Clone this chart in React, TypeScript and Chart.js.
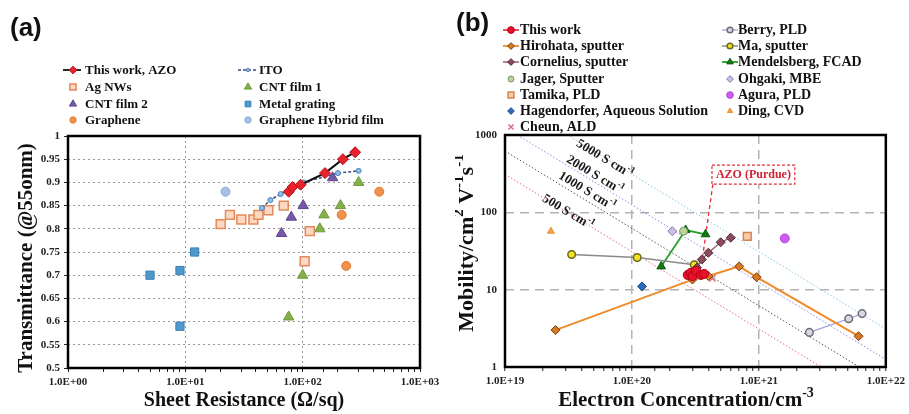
import React, { useEffect, useRef } from 'react';
import { Chart, registerables } from 'chart.js';
Chart.register(...registerables);

const SERIF = '"Liberation Serif", "Times New Roman", serif';
const SANS = '"Liberation Sans", Arial, sans-serif';

// ---------------- Panel (a) data ----------------
const namesA = ['This work, AZO', 'ITO', 'Ag NWs', 'CNT film 1', 'CNT film 2', 'Metal grating', 'Graphene', 'Graphene Hybrid film'];
const azoR = [76, 82, 96, 155, 220, 280];
const azoT = [0.88, 0.89, 0.895, 0.92, 0.95, 0.965];
const itoR = [45, 53, 65, 102, 200, 300];
const itoT = [0.845, 0.862, 0.875, 0.9, 0.92, 0.925];
const agR = [20, 24, 30, 38, 42, 51, 69, 115, 104];
const agT = [0.81, 0.83, 0.82, 0.82, 0.83, 0.84, 0.85, 0.795, 0.73];
const cnt1R = [100, 140, 152, 210, 300, 76];
const cnt1T = [0.7, 0.8, 0.83, 0.85, 0.9, 0.61];
const cnt2R = [66, 80, 101, 180];
const cnt2T = [0.79, 0.825, 0.85, 0.91];
const metalR = [5, 9, 12, 9];
const metalT = [0.7, 0.71, 0.75, 0.59];
const grR = [450, 215, 235];
const grT = [0.88, 0.83, 0.72];
const hyR = [22];
const hyT = [0.88];

// ---------------- Panel (b) data ----------------
const namesB = ['This work', 'Hirohata, sputter', 'Cornelius, sputter', 'Jager, Sputter', 'Tamika, PLD', 'Hagendorfer, Aqueous Solution', 'Cheun, ALD',
  'Berry, PLD', 'Ma, sputter', 'Mendelsberg, FCAD', 'Ohgaki, MBE', 'Agura, PLD', 'Ding, CVD'];
const twN = [2.75e20, 2.9e20, 3.0e20, 3.2e20, 3.5e20, 3.7e20];
const twMu = [15.5, 16.5, 15, 17.5, 15.5, 16];
const hiroN = [2.5e19, 3.0e20, 4.0e20, 7.0e20, 9.6e20, 6.1e21];
const hiroMu = [3, 13.5, 15, 20, 14.5, 2.5];
const cornN = [3.25e20, 3.55e20, 4.0e20, 5.0e20, 6.0e20];
const cornMu = [19.3, 24.5, 30, 41, 47];
const jagN = [2.55e20];
const jagMu = [57];
const tamN = [8.1e20];
const tamMu = [49];
const hagN = [1.2e20];
const hagMu = [11];
const cheunN = [4.3e20];
const cheunMu = [14];
const berryN = [2.5e21, 5.1e21, 6.5e21];
const berryMu = [2.8, 4.2, 4.9];
const maN = [3.35e19, 1.1e20, 3.1e20];
const maMu = [28.5, 26, 21];
const mendN = [1.7e20, 2.65e20, 3.8e20];
const mendMu = [20, 59, 52];
const ohgN = [2.08e20];
const ohgMu = [57];
const aguraN = [1.6e21];
const aguraMu = [46];
const dingN = [2.3e19];
const dingMu = [57];
// iso-conductivity guide lines (end points)
const sigmaValues = ['5000', '2000', '1000', '500'];
const s5000N = [3.1e19, 1e22];
const s5000Mu = [1000, 3.1];
const s2000N = [1.25e19, 1e22];
const s2000Mu = [1000, 1.25];
const s1000N = [1e19, 6.2e21];
const s1000Mu = [620, 1];
const s500N = [1e19, 3.1e21];
const s500Mu = [310, 1];
// annotation
const ptrN = [4.34e20, 3.56e20];
const ptrMu = [231, 23];

type St = { style: string; fill: string; stroke: string; r: number; pw?: number; line?: string; lw?: number; dash?: number[] };

const STA: St[] = [
  { style: 'rectRot', fill: '#e8232b', stroke: '#b5121a', r: 5.5, line: '#111111', lw: 2 },
  { style: 'circle', fill: '#8fbfe6', stroke: '#4f7fb8', r: 2.5, line: '#3c4c86', lw: 1.5, dash: [3, 2] },
  { style: 'rect', fill: '#fdd9c3', stroke: '#e4895a', r: 6.3, pw: 1.5 },
  { style: 'triangle', fill: '#86b04a', stroke: '#6e9a3a', r: 6 },
  { style: 'triangle', fill: '#7658a8', stroke: '#5e4590', r: 6 },
  { style: 'rect', fill: '#4f98cc', stroke: '#3c7fb5', r: 5.8 },
  { style: 'circle', fill: '#f0914c', stroke: '#e07a35', r: 4.5 },
  { style: 'circle', fill: '#a7c0e8', stroke: '#8aa6d8', r: 4.5 },
];

const STB: St[] = [
  { style: 'circle', fill: '#e8102a', stroke: '#b00018', r: 4.5, line: '#e8102a', lw: 1.5 },
  { style: 'rectRot', fill: '#d9781f', stroke: '#7a4010', r: 4.5, line: '#f08a2a', lw: 2 },
  { style: 'rectRot', fill: '#8c4a5c', stroke: '#4e2a35', r: 4.5, line: '#9c5e6e', lw: 1.5 },
  { style: 'circle', fill: '#b9d98c', stroke: '#7f8f7f', r: 4 },
  { style: 'rect', fill: '#f8cba8', stroke: '#cf8552', r: 5.5, pw: 1.5 },
  { style: 'rectRot', fill: '#2f6cb8', stroke: '#1e4f90', r: 4.5 },
  { style: 'crossRot', fill: '#e06a80', stroke: '#e06a80', r: 4.5, pw: 1.5 },
  { style: 'circle', fill: '#d8d8e0', stroke: '#6d6d78', r: 3.8, pw: 1.5, line: '#9c9ce0', lw: 1.2 },
  { style: 'circle', fill: '#f0e41a', stroke: '#6b6820', r: 3.8, pw: 1.5, line: '#8a8a8a', lw: 1.5 },
  { style: 'triangle', fill: '#137a13', stroke: '#0c5a0c', r: 5, line: '#2a9c2a', lw: 1.8 },
  { style: 'rectRot', fill: '#cbbde6', stroke: '#8a7aa8', r: 4.5 },
  { style: 'circle', fill: '#cc5bf0', stroke: '#b84ae0', r: 4.5 },
  { style: 'triangle', fill: '#f4a340', stroke: '#e8922f', r: 4 },
];
const sigmaColors = ['#86c8e6', '#8c8ce0', '#4e5e4e', '#e0708e'];

const isDecade = (v: number) => Math.abs(Math.log10(v) - Math.round(Math.log10(v))) < 1e-6;
const sciLabel = (v: number) => '1.0E+' + String(Math.round(Math.log10(v))).padStart(2, '0');

type Part = { t: string; sup?: boolean };

// draws text with superscript parts, centred on (0,0) of current transform
function drawRich(ctx: CanvasRenderingContext2D, parts: Part[], size: number) {
  const big = `bold ${size}px ${SERIF}`;
  const small = `bold ${Math.round(size * 0.66)}px ${SERIF}`;
  let total = 0;
  const widths = parts.map((p) => { ctx.font = p.sup ? small : big; const w = ctx.measureText(p.t).width; total += w; return w; });
  let x = -total / 2;
  ctx.textAlign = 'left';
  parts.forEach((p, i) => {
    ctx.font = p.sup ? small : big;
    ctx.fillText(p.t, x, p.sup ? -size * 0.36 : 0);
    x += widths[i];
  });
}

function drawMarker(ctx: CanvasRenderingContext2D, st: St, x: number, y: number, scale = 1) {
  const r = st.r * scale;
  ctx.save();
  ctx.setLineDash([]);
  ctx.beginPath();
  if (st.style === 'circle') ctx.arc(x, y, r, 0, Math.PI * 2);
  else if (st.style === 'rect') { const s = r * Math.SQRT1_2; ctx.rect(x - s, y - s, 2 * s, 2 * s); }
  else if (st.style === 'rectRot') { ctx.moveTo(x - r, y); ctx.lineTo(x, y - r); ctx.lineTo(x + r, y); ctx.lineTo(x, y + r); ctx.closePath(); }
  else if (st.style === 'triangle') { ctx.moveTo(x, y - r); ctx.lineTo(x + 0.866 * r, y + 0.5 * r); ctx.lineTo(x - 0.866 * r, y + 0.5 * r); ctx.closePath(); }
  else if (st.style === 'crossRot') { const s = r * 0.75; ctx.moveTo(x - s, y - s); ctx.lineTo(x + s, y + s); ctx.moveTo(x + s, y - s); ctx.lineTo(x - s, y + s); }
  if (st.style !== 'crossRot') { ctx.fillStyle = st.fill; ctx.fill(); }
  ctx.strokeStyle = st.stroke; ctx.lineWidth = st.pw ?? 1; ctx.stroke();
  ctx.restore();
}

function makeDs(label: string, xs: number[], ys: number[], st: St) {
  return {
    label,
    data: xs.map((x, i) => ({ x, y: ys[i] })),
    pointStyle: st.style,
    pointRadius: st.r,
    pointHoverRadius: st.r,
    pointBackgroundColor: st.fill,
    pointBorderColor: st.stroke,
    pointBorderWidth: st.pw ?? 1,
    showLine: !!st.line,
    borderColor: st.line ?? st.stroke,
    borderWidth: st.lw ?? 1.5,
    borderDash: st.dash ?? [],
    backgroundColor: st.fill,
  };
}

function lineDs(label: string, xs: number[], ys: number[], color: string, dash: number[], width: number) {
  return {
    label,
    data: xs.map((x, i) => ({ x, y: ys[i] })),
    showLine: true,
    pointRadius: 0,
    pointHoverRadius: 0,
    borderColor: color,
    borderWidth: width,
    borderDash: dash,
  };
}

type LegendItem = { label: string; st: St; mx: number; y: number; tx: number; l0?: number; l1?: number };
type PanelCfg = {
  tag: string; tagX: number; tagY: number;
  legend: LegendItem[]; legendSize: number; legendScale: number;
  xTitle: Part[]; xTitleX: number; xTitleY: number; xTitleSize: number;
  yTitle: Part[]; yTitleX: number; yTitleY: number; yTitleSize: number;
  labels?: { parts: Part[]; x: number; y: number; angle: number }[];
  box?: { text: string; x0: number; x1: number; y0: number; y1: number };
};

function makePanel(cfg: PanelCfg) {
  return {
    id: 'panel',
    afterDraw(chart: any) {
      const ctx: CanvasRenderingContext2D = chart.ctx;
      const ca = chart.chartArea;
      const xs = chart.scales.x, ys = chart.scales.y;
      ctx.save();
      ctx.setLineDash([]);
      ctx.strokeStyle = '#000';
      ctx.lineWidth = 2.5;
      ctx.strokeRect(ca.left, ca.top, ca.right - ca.left, ca.bottom - ca.top);

      ctx.fillStyle = '#111';
      ctx.textBaseline = 'middle';
      ctx.textAlign = 'left';
      ctx.font = `bold 26px ${SANS}`;
      ctx.fillText(cfg.tag, cfg.tagX, cfg.tagY);

      for (const it of cfg.legend) {
        if (it.st.line && it.l0 !== undefined && it.l1 !== undefined) {
          ctx.save();
          ctx.strokeStyle = it.st.line;
          ctx.lineWidth = Math.min(it.st.lw ?? 1.5, 1.8);
          ctx.setLineDash(it.st.dash ?? []);
          ctx.beginPath(); ctx.moveTo(it.l0, it.y); ctx.lineTo(it.l1, it.y); ctx.stroke();
          ctx.restore();
        }
        drawMarker(ctx, it.st, it.mx, it.y, cfg.legendScale);
        ctx.fillStyle = '#111';
        ctx.font = `bold ${cfg.legendSize}px ${SERIF}`;
        ctx.textAlign = 'left';
        ctx.fillText(it.label, it.tx, it.y + 0.5);
      }

      ctx.fillStyle = '#111';
      ctx.save();
      ctx.translate(cfg.xTitleX, cfg.xTitleY);
      drawRich(ctx, cfg.xTitle, cfg.xTitleSize);
      ctx.restore();
      ctx.save();
      ctx.translate(cfg.yTitleX, cfg.yTitleY);
      ctx.rotate(-Math.PI / 2);
      drawRich(ctx, cfg.yTitle, cfg.yTitleSize);
      ctx.restore();

      for (const lb of cfg.labels ?? []) {
        const px = xs.getPixelForValue(lb.x), py = ys.getPixelForValue(lb.y);
        ctx.save();
        ctx.translate(px, py);
        ctx.rotate((lb.angle * Math.PI) / 180);
        ctx.fillStyle = '#1a1a1a';
        drawRich(ctx, lb.parts, 13);
        ctx.restore();
      }

      if (cfg.box) {
        const b = cfg.box;
        const x0 = xs.getPixelForValue(b.x0), x1 = xs.getPixelForValue(b.x1);
        const y0 = ys.getPixelForValue(b.y1), y1 = ys.getPixelForValue(b.y0);
        ctx.fillStyle = '#fff';
        ctx.fillRect(x0, y0, x1 - x0, y1 - y0);
        ctx.strokeStyle = '#e0303a';
        ctx.lineWidth = 1.2;
        ctx.setLineDash([3, 2]);
        ctx.strokeRect(x0, y0, x1 - x0, y1 - y0);
        ctx.setLineDash([]);
        ctx.fillStyle = '#d42030';
        ctx.font = `bold 12px ${SERIF}`;
        ctx.textAlign = 'center';
        ctx.fillText(b.text, (x0 + x1) / 2, (y0 + y1) / 2 + 0.5);
      }
      ctx.restore();
    },
  };
}

const tickFont = { family: SERIF, size: 11, weight: 'bold' as const };

// ---------------- configs ----------------
function leftConfig(): any {
  const series = [
    [azoR, azoT], [itoR, itoT], [agR, agT], [cnt1R, cnt1T], [cnt2R, cnt2T], [metalR, metalT], [grR, grT], [hyR, hyT],
  ];
  const datasets = series.map((s, i) => makeDs(namesA[i], s[0], s[1], STA[i]));
  const rows = [70, 87, 104, 120];
  const legend: LegendItem[] = namesA.map((n, i) => {
    const col = i % 2, row = Math.floor(i / 2);
    return col === 0
      ? { label: n, st: STA[i], mx: 73, y: rows[row], tx: 85, l0: 63, l1: 81 }
      : { label: n, st: STA[i], mx: 248, y: rows[row], tx: 259, l0: 238, l1: 257 };
  });
  return {
    type: 'scatter',
    data: { datasets },
    options: {
      responsive: false,
      animation: false,
      devicePixelRatio: 1,
      layout: { padding: { left: 0, top: 136, right: 35, bottom: 0 } },
      plugins: { legend: { display: false }, tooltip: { enabled: false } },
      scales: {
        x: {
          type: 'logarithmic', min: 1, max: 1000,
          afterFit: (s: any) => { s.height = 46; },
          ticks: { autoSkip: false, maxRotation: 0, font: tickFont, color: '#222', padding: 4,
            callback: (v: any) => (isDecade(Number(v)) ? sciLabel(Number(v)) : '') },
          grid: {
            color: (c: any) => (c.tick && isDecade(c.tick.value) && c.tick.value > 1 && c.tick.value < 1000 ? '#9a9a9a' : 'rgba(0,0,0,0)'),
            lineWidth: 1, tickLength: 4, tickColor: '#222', tickWidth: 1,
          },
          border: { display: false, dash: [2, 3] },
        },
        y: {
          type: 'linear', min: 0.5, max: 1,
          afterFit: (s: any) => { s.width = 68; },
          ticks: { stepSize: 0.05, font: tickFont, color: '#222', padding: 4,
            callback: (v: any) => String(+Number(v).toFixed(2)) },
          grid: {
            color: (c: any) => (c.tick && c.tick.value > 0.501 && c.tick.value < 0.999 ? '#9a9a9a' : 'rgba(0,0,0,0)'),
            lineWidth: 1, tickLength: 4, tickColor: '#222',
          },
          border: { display: false, dash: [2, 3] },
        },
      },
    },
    plugins: [makePanel({
      tag: '(a)', tagX: 10, tagY: 29, legend, legendSize: 13, legendScale: 0.7,
      xTitle: [{ t: 'Sheet Resistance (Ω/sq)' }], xTitleX: 244, xTitleY: 401, xTitleSize: 20,
      yTitle: [{ t: 'Transmittance (@55onm)' }], yTitleX: 27, yTitleY: 258, yTitleSize: 21,
    })],
  };
}

function rightConfig(): any {
  const series = [
    [twN, twMu], [hiroN, hiroMu], [cornN, cornMu], [jagN, jagMu], [tamN, tamMu], [hagN, hagMu], [cheunN, cheunMu],
    [berryN, berryMu], [maN, maMu], [mendN, mendMu], [ohgN, ohgMu], [aguraN, aguraMu], [dingN, dingMu],
  ];
  const datasets: any[] = series.map((s, i) => makeDs(namesB[i], s[0], s[1], STB[i]));
  datasets.push(lineDs('AZO (Purdue) pointer', ptrN, ptrMu, '#e8303a', [4, 3], 1.3));
  const sig = [[s5000N, s5000Mu], [s2000N, s2000Mu], [s1000N, s1000Mu], [s500N, s500Mu]];
  sig.forEach((s, i) => datasets.push(lineDs(sigmaValues[i] + ' S cm-1', s[0], s[1], sigmaColors[i], [1.5, 2], 1)));

  const rows = [30, 46, 62, 79, 95, 111, 127];
  const legend: LegendItem[] = namesB.map((n, i) => {
    if (i < 7) return { label: n, st: STB[i], mx: 56, y: rows[i], tx: 65, l0: 48, l1: 64 };
    return { label: n, st: STB[i], mx: 275, y: rows[i - 7], tx: 283, l0: 267, l1: 283 };
  });
  const sigLabel = (v: string): Part[] => [{ t: v + ' S cm' }, { t: '-1', sup: true }];
  return {
    type: 'scatter',
    data: { datasets },
    options: {
      responsive: false,
      animation: false,
      devicePixelRatio: 1,
      layout: { padding: { left: 0, top: 135, right: 22, bottom: 0 } },
      plugins: { legend: { display: false }, tooltip: { enabled: false } },
      scales: {
        x: {
          type: 'logarithmic', min: 1e19, max: 1e22,
          afterFit: (s: any) => { s.height = 47; },
          ticks: { autoSkip: false, maxRotation: 0, font: tickFont, color: '#222', padding: 4,
            callback: (v: any) => (isDecade(Number(v)) ? sciLabel(Number(v)) : '') },
          grid: {
            color: (c: any) => (c.tick && isDecade(c.tick.value) && c.tick.value > 1.01e19 && c.tick.value < 0.99e22 ? '#b3b3b3' : 'rgba(0,0,0,0)'),
            lineWidth: 1.5, tickLength: 4, tickColor: '#222', tickWidth: 1,
          },
          border: { display: false, dash: [9, 6] },
        },
        y: {
          type: 'logarithmic', min: 1, max: 1000,
          afterFit: (s: any) => { s.width = 50; },
          ticks: { autoSkip: false, font: tickFont, color: '#222', padding: 8,
            callback: (v: any) => (isDecade(Number(v)) ? String(Math.round(Number(v))) : '') },
          grid: {
            color: (c: any) => (c.tick && isDecade(c.tick.value) && c.tick.value > 1.01 && c.tick.value < 999 ? '#b3b3b3' : 'rgba(0,0,0,0)'),
            lineWidth: 1.5, drawTicks: false,
          },
          border: { display: false, dash: [9, 6] },
        },
      },
    },
    plugins: [makePanel({
      tag: '(b)', tagX: 1, tagY: 24, legend, legendSize: 14, legendScale: 0.75,
      xTitle: [{ t: 'Electron Concentration/cm' }, { t: '-3', sup: true }], xTitleX: 231, xTitleY: 401, xTitleSize: 21,
      yTitle: [{ t: 'Mobility/cm' }, { t: '2', sup: true }, { t: ' V' }, { t: '-1', sup: true }, { t: 's' }, { t: '-1', sup: true }],
      yTitleX: 12, yTitleY: 243, yTitleSize: 22,
      labels: [
        { parts: sigLabel(sigmaValues[0]), x: 6.1e19, y: 488, angle: 31 },
        { parts: sigLabel(sigmaValues[1]), x: 5.1e19, y: 303, angle: 31 },
        { parts: sigLabel(sigmaValues[2]), x: 4.42e19, y: 187, angle: 31 },
        { parts: sigLabel(sigmaValues[3]), x: 3.13e19, y: 100, angle: 31 },
      ],
      box: { text: 'AZO (Purdue)', x0: 4.27e20, x1: 1.92e21, y0: 231, y1: 408 },
    })],
  };
}

function ChartCanvas({ make, left, width }: { make: () => any; left: number; width: number }) {
  const ref = useRef<HTMLCanvasElement>(null);
  useEffect(() => {
    const chart = new Chart(ref.current as HTMLCanvasElement, make());
    return () => chart.destroy();
  }, []);
  return (
    <canvas ref={ref} width={width} height={414}
      style={{ position: 'absolute', left, top: 0, width, height: 414 }} />
  );
}

export default function App() {
  return (
    <div style={{ position: 'absolute', left: 0, top: 0, width: 909, height: 414, background: '#fff', overflow: 'hidden' }}>
      <ChartCanvas make={leftConfig} left={0} width={455} />
      <ChartCanvas make={rightConfig} left={455} width={454} />
    </div>
  );
}
